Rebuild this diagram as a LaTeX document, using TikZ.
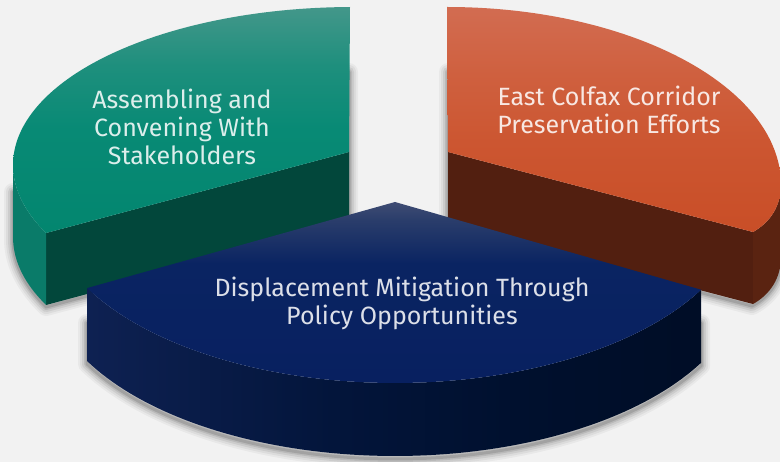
\documentclass[tikz,border=0pt]{standalone}
\usepackage{fontspec}
\setmainfont{Fira Sans}
\usetikzlibrary{calc}

\definecolor{bg}{HTML}{F2F2F2}
% teal slice
\definecolor{tealL}{HTML}{43978A}
\definecolor{tealM2}{HTML}{1E8F7D}
\definecolor{tealM}{HTML}{088A75}
\definecolor{tealB}{HTML}{03866F}
\definecolor{tealSide}{HTML}{0A7B69}
\definecolor{tealCut}{HTML}{02473B}
% orange slice
\definecolor{oraL}{HTML}{D26C51}
\definecolor{oraM2}{HTML}{CF603F}
\definecolor{oraM}{HTML}{CC5631}
\definecolor{oraB}{HTML}{C94E27}
\definecolor{oraSide}{HTML}{5A2311}
\definecolor{oraCut}{HTML}{521F10}
% navy slice
\definecolor{navL}{HTML}{3F4C73}
\definecolor{navL2}{HTML}{2A3D6B}
\definecolor{navM}{HTML}{0A2462}
\definecolor{navB}{HTML}{082060}
\definecolor{navS1}{HTML}{0E2152}
\definecolor{navS2}{HTML}{03153B}
\definecolor{navS3}{HTML}{00102E}
\definecolor{navS4}{HTML}{000D26}

% top faces: light rim at the back, solid colour towards the front
\pgfdeclareverticalshading{tealtop}{100bp}{color(0bp)=(tealB); color(25bp)=(tealB); color(48bp)=(tealM); color(62bp)=(tealM2); color(75bp)=(tealL); color(100bp)=(tealL)}
\pgfdeclareverticalshading{oratop}{100bp}{color(0bp)=(oraB); color(25bp)=(oraB); color(45bp)=(oraM); color(60bp)=(oraM2); color(75bp)=(oraL); color(100bp)=(oraL)}
\pgfdeclareverticalshading{navtop}{100bp}{color(0bp)=(navB); color(25bp)=(navB); color(58bp)=(navM); color(70bp)=(navL2); color(75bp)=(navL); color(100bp)=(navL)}
\pgfdeclarehorizontalshading{navside}{100bp}{color(0bp)=(navS1); color(25bp)=(navS1); color(45bp)=(navS2); color(60bp)=(navS3); color(75bp)=(navS4); color(100bp)=(navS4)}

\begin{document}
\begin{tikzpicture}[x=1pt,y=-1pt,
  shadowline/.style={draw=black, line cap=round, line join=round},
  lbl/.style={align=center, text=white, text opacity=0.86, inner sep=0pt,
    font=\fontsize{25}{28}\selectfont},
  % outlines used for the soft shadows under each slice
  tealsh/.style={insert path={(349,70) -- (349,224) -- (46.1,305)
    -- plot[domain=205.5:180,samples=20,variable=\t] ({353+340*cos(\t)},{237-158*sin(\t)}) -- (13,190)}},
  orash/.style={insert path={(448,70) -- (448,224) -- (752,304)
    .. controls (771,294) and (781,277) .. (781,257) -- (781,200)}},
  navsh/.style={insert path={(87,320) -- (87,361)
    -- plot[domain=208.4:331,samples=60,variable=\t] ({395+350*cos(\t)},{275-181*sin(\t)}) -- (701,320)}},
]
\useasboundingbox (0,0) rectangle (780,462);
\fill[bg] (0,0) rectangle (780,462);
\clip (0,0) rectangle (780,462);

% ---------- teal slice (back left) ----------
\coordinate (tC) at (349,152);
\coordinate (tTop) at (350,7);
\coordinate (tCorner) at (46.1,233);
\foreach \w/\o in {18/0.04,14/0.05,10/0.07,6/0.09,3/0.12}
  \draw[yshift=-2pt, shadowline, line width=\w pt, draw opacity=\o, tealsh];
% cut face
\fill[tealCut] (tC) -- (tCorner) -- ++(0,72) -- ($(tC)+(0,72)$) -- cycle;
% rim
\fill[tealSide] plot[domain=180:205.5,samples=20,variable=\t] ({353+340*cos(\t)},{165-158*sin(\t)})
  -- plot[domain=205.5:180,samples=20,variable=\t] ({353+340*cos(\t)},{237-158*sin(\t)}) -- cycle;
% top face
\shade[shading=tealtop] (tC) -- (tTop)
  -- plot[domain=90.5:205.5,samples=80,variable=\t] ({353+340*cos(\t)},{165-158*sin(\t)}) -- cycle;

% ---------- orange slice (back right) ----------
\coordinate (oC) at (448,152);
\coordinate (oTop) at (447,7);
\coordinate (oRight) at (781,185);
\coordinate (oCorner) at (753,232);
\foreach \w/\o in {18/0.04,14/0.05,10/0.07,6/0.09,3/0.12}
  \draw[yshift=-2pt, shadowline, line width=\w pt, draw opacity=\o, orash];
% cut face
\fill[oraCut] (oC) -- (oCorner) -- ++(0,72) -- ($(oC)+(0,72)$) -- cycle;
% rim
\fill[oraSide] (oRight) .. controls (781,205) and (771,222) .. (oCorner)
  -- (753,304) .. controls (771,294) and (781,277) .. (781,257) -- cycle;
% top face
\shade[shading=oratop] (oC) -- (oTop) .. controls (631,7) and (781,87) .. (oRight)
  .. controls (781,205) and (771,222) .. (oCorner) -- cycle;

% ---------- navy slice (front) ----------
\coordinate (nC) at (395,202);
\foreach \w/\o in {18/0.04,14/0.05,10/0.07,6/0.09,3/0.12}
  \draw[yshift=-3pt, shadowline, line width=\w pt, draw opacity=\o, navsh];
% rim
\shade[shading=navside] plot[domain=208.4:331,samples=80,variable=\t] ({395+350*cos(\t)},{202-181*sin(\t)})
  -- plot[domain=331:208.4,samples=80,variable=\t] ({395+350*cos(\t)},{275-181*sin(\t)}) -- cycle;
% top face
\shade[shading=navtop] (nC)
  -- plot[domain=208.4:331,samples=80,variable=\t] ({395+350*cos(\t)},{202-181*sin(\t)}) -- cycle;

% ---------- labels ----------
\node[lbl] (tealtxt) at (182,127) {Assembling and\\Convening With\\Stakeholders};
\node[lbl] (oratxt) at (609,110) {East Colfax Corridor\\Preservation Efforts};
\node[lbl] (navtxt) at (402,303) {Displacement Mitigation Through\\Policy Opportunities};
\end{tikzpicture}
\end{document}
